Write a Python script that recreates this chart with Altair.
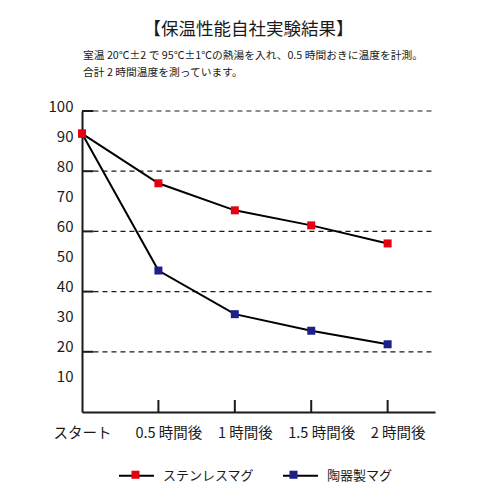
"""Keep-warm test chart: stainless vs ceramic mug temperature"""

import pandas as pd
import altair as alt

HOURS = [0, 0.5, 1, 1.5, 2]
X_LABELS = ["スタート", "0.5 時間後", "1 時間後", "1.5 時間後", "2 時間後"]
X_TICKS = [0.5, 1, 1.5, 2]
SERIES = ["ステンレスマグ", "陶器製マグ"]
STAINLESS = [92.5, 76, 67, 62, 56]
CERAMIC = [92.5, 47, 32.5, 27, 22.5]
COLORS = ["#e60012", "#1d2088"]
Y_LABELS = [10, 20, 30, 40, 50, 60, 70, 80, 90, 100]
GRID = [20, 40, 60, 80, 100]
TITLE = "【保温性能自社実験結果】"
NOTE = [
    "室温 20℃±2 で 95℃±1℃の熱湯を入れ、0.5 時間おきに温度を計測。",
    "合計 2 時間温度を測っています。",
]

FONT = "Noto Sans CJK JP"
INK = "#1a1a1a"
X_MAX = 2.31
LEGEND_FS = 13

# ceramic first so the red start square sits on top
df = pd.concat([
    pd.DataFrame({"hour": HOURS, "temp": CERAMIC, "series": SERIES[1]}),
    pd.DataFrame({"hour": HOURS, "temp": STAINLESS, "series": SERIES[0]}),
], ignore_index=True)
# second copy of the series field so the line and marker legends stay apart
df["mug"] = df["series"]

label_expr = "{}[indexof({}, datum.value)]".format(
    "[" + ",".join(f"'{s}'" for s in X_LABELS) + "]",
    "[" + ",".join(str(h) for h in HOURS) + "]",
)

x_scale = alt.Scale(domain=[0, X_MAX], nice=False, zero=False)
y_scale = alt.Scale(domain=[0, 100], nice=False)

x_axis = alt.Axis(
    title=None, values=HOURS, labelExpr=label_expr, ticks=False, tickSize=0,
    grid=False, domainColor=INK, domainWidth=2, labelFont=FONT, labelFontSize=14.5,
    labelColor=INK, labelPadding=14, labelBaseline="top", labelOverlap=False,
    labelFlush=False, labelBound=False,
    labelOffset={"condition": {"test": "datum.value == 0", "value": 0}, "value": 10},
)
y_axis = alt.Axis(
    title=None, values=Y_LABELS, ticks=False, tickSize=0, grid=False,
    domainColor=INK, domainWidth=2, labelFont=FONT, labelFontSize=15,
    labelColor=INK, labelPadding=9, labelBaseline="alphabetic", labelOverlap=False,
)

legend_common = dict(
    orient="none", legendX=36, legendY=346, direction="horizontal", title=None,
    symbolSize=1225, labelFont=FONT, labelFontSize=LEGEND_FS, labelColor=INK,
    labelOffset=8,
)
# marker legend has blank labels, so its gap must cover the first label's width
first_label_w = LEGEND_FS * len(SERIES[0])

base = alt.Chart(df)

# stroke scale keeps a data-driven domain so Vega-Lite does not merge the two legends
lines = base.mark_line(strokeWidth=2).encode(
    x=alt.X("hour:Q", scale=x_scale, axis=x_axis),
    y=alt.Y("temp:Q", scale=y_scale, axis=y_axis),
    detail="series:N",
    stroke=alt.Stroke(
        "mug:N",
        scale=alt.Scale(range=["black", "black"]),
        legend=alt.Legend(symbolType="stroke", symbolStrokeWidth=2, columnPadding=24,
                          **legend_common),
    ),
)

points = base.mark_point(shape="square", filled=True, size=64, opacity=1).encode(
    x=alt.X("hour:Q", scale=x_scale, axis=x_axis),
    y=alt.Y("temp:Q", scale=y_scale, axis=y_axis),
    color=alt.Color(
        "series:N",
        scale=alt.Scale(domain=SERIES, range=COLORS),
        legend=alt.Legend(
            symbolType="M-0.23,-0.23H0.23V0.23H-0.23Z", symbolStrokeWidth=0,
            symbolOpacity=1, labelExpr="''", columnPadding=24 + first_label_w,
            **legend_common
        ),
    ),
    order=alt.Order("series:N", sort="descending"),
)

grid_df = pd.DataFrame({"v": GRID})
y_ticks = alt.Chart(grid_df).mark_rule(color=INK, strokeWidth=2).encode(
    x=alt.XDatum(0, scale=x_scale, axis=x_axis),
    x2=alt.datum(0.075),
    y=alt.Y("v:Q", scale=y_scale, axis=y_axis),
)
grid = alt.Chart(grid_df).mark_rule(color=INK, strokeWidth=1.2, strokeDash=[5, 4]).encode(
    x=alt.XDatum(0.075, scale=x_scale, axis=x_axis),
    x2=alt.datum(X_MAX - 0.01),
    y=alt.Y("v:Q", scale=y_scale, axis=y_axis),
)

x_ticks = alt.Chart(pd.DataFrame({"h": X_TICKS})).mark_rule(color=INK, strokeWidth=2).encode(
    x=alt.X("h:Q", scale=x_scale, axis=x_axis),
    y=alt.YDatum(0, scale=y_scale, axis=y_axis),
    y2=alt.datum(4),
)

note = alt.Chart(pd.DataFrame({"k": [0]})).mark_text(
    text=NOTE, align="left", baseline="top", font=FONT, fontSize=10.75,
    lineHeight=17, color=INK,
).encode(x=alt.value(1), y=alt.value(-60))

chart = alt.layer(grid, y_ticks, x_ticks, lines, points, note).properties(
    width=353,
    height=301,
    autosize=alt.AutoSizeParams(type="none"),
    padding={"left": 74, "top": 103, "right": 20, "bottom": 80},
    title=alt.TitleParams(
        TITLE, anchor="middle", frame="group", dx=-10, offset=12,
        font=FONT, fontSize=17.5, fontWeight="normal", color=INK,
    ),
).configure_view(stroke=None)

chart.save("out.html", embed_options={"renderer": "svg", "actions": False})
